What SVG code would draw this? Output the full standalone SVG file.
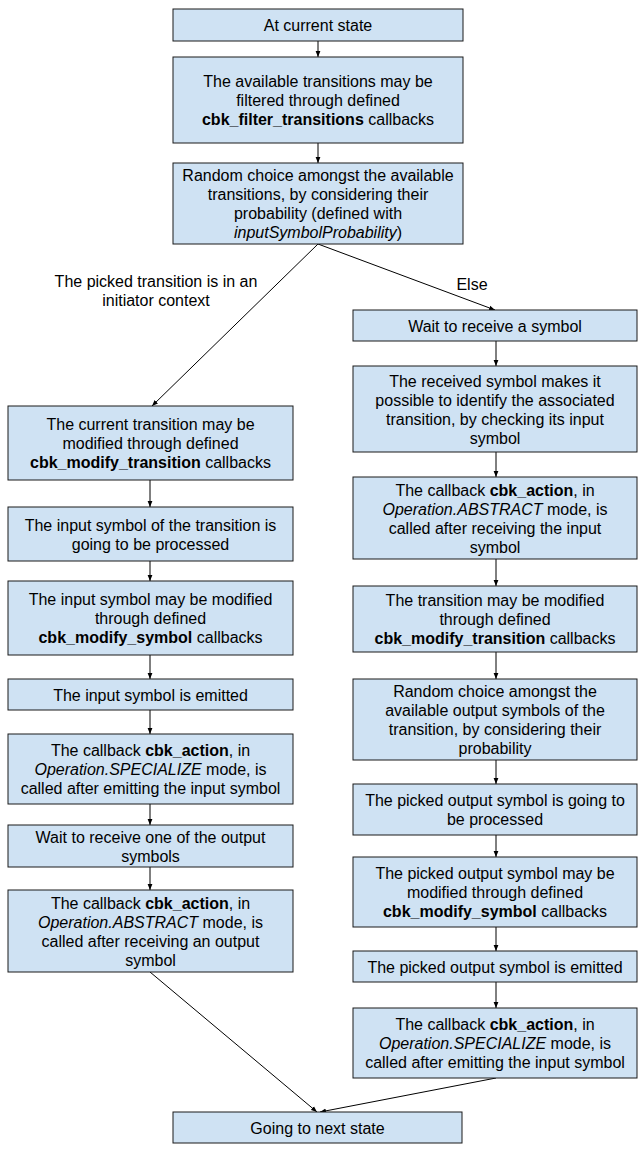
<svg xmlns="http://www.w3.org/2000/svg" width="643" height="1151" viewBox="0 0 643 1151">
<style>
.box{fill:#cfe2f3;stroke:#1a1a1a;stroke-width:1}
text{font-family:"Liberation Sans",Arial,sans-serif;font-size:16px;fill:#000;text-anchor:middle}
.b{font-weight:bold}
.i{font-style:italic}
.c{stroke:#000;stroke-width:1;fill:none;marker-end:url(#ah)}
</style>
<defs>
<marker id="ah" viewBox="0 0 10 10" markerWidth="6" markerHeight="6" refX="10" refY="5" orient="auto" markerUnits="userSpaceOnUse">
<path d="M0,1 L10,5 L0,9 z" fill="#000"/>
</marker>
</defs>
<rect width="643" height="1151" fill="#fff"/>
<g id="connectors">
<line class="c" x1="318" y1="41" x2="318" y2="57"/>
<line class="c" x1="318" y1="143" x2="318" y2="163"/>
<line class="c" x1="318" y1="244" x2="152" y2="406"/>
<line class="c" x1="318" y1="244" x2="495" y2="310"/>
<line class="c" x1="150" y1="480" x2="150" y2="507"/>
<line class="c" x1="150" y1="561" x2="150" y2="581"/>
<line class="c" x1="150" y1="655" x2="150" y2="679"/>
<line class="c" x1="150" y1="710" x2="150" y2="734"/>
<line class="c" x1="150" y1="804" x2="150" y2="825"/>
<line class="c" x1="150" y1="867" x2="150" y2="890"/>
<line class="c" x1="150" y1="972" x2="317" y2="1112"/>
<line class="c" x1="496" y1="341" x2="496" y2="366"/>
<line class="c" x1="496" y1="452" x2="496" y2="477"/>
<line class="c" x1="496" y1="559" x2="496" y2="586"/>
<line class="c" x1="496" y1="652" x2="496" y2="679"/>
<line class="c" x1="496" y1="760" x2="496" y2="784"/>
<line class="c" x1="496" y1="835" x2="496" y2="857"/>
<line class="c" x1="496" y1="927" x2="496" y2="951"/>
<line class="c" x1="496" y1="982" x2="496" y2="1008"/>
<line class="c" x1="496" y1="1078" x2="320" y2="1112"/>
<text x="156" y="287">The picked transition is in an</text>
<text x="156" y="306">initiator context</text>
<text x="472" y="290">Else</text>
</g>
<g id="n1"><rect class="box" x="173" y="9" width="290" height="32"/>
<text x="318" y="31">At current state</text></g>
<g id="n2"><rect class="box" x="173" y="57" width="290" height="86"/>
<text x="318" y="87">The available transitions may be</text>
<text x="318" y="106">filtered through defined</text>
<text x="318" y="125"><tspan class="b">cbk_filter_transitions</tspan> callbacks</text></g>
<g id="n3"><rect class="box" x="173" y="163" width="290" height="81"/>
<text x="318" y="181">Random choice amongst the available</text>
<text x="318" y="200">transitions, by considering their</text>
<text x="318" y="219">probability (defined with</text>
<text x="318" y="238"><tspan class="i">inputSymbolProbability</tspan>)</text></g>
<g id="l1"><rect class="box" x="8" y="406" width="285" height="74"/>
<text x="150.5" y="430">The current transition may be</text>
<text x="150.5" y="449">modified through defined</text>
<text x="150.5" y="468"><tspan class="b">cbk_modify_transition</tspan> callbacks</text></g>
<g id="l2"><rect class="box" x="8" y="507" width="285" height="54"/>
<text x="150.5" y="530.5">The input symbol of the transition is</text>
<text x="150.5" y="549.5">going to be processed</text></g>
<g id="l3"><rect class="box" x="8" y="581" width="285" height="74"/>
<text x="150.5" y="605">The input symbol may be modified</text>
<text x="150.5" y="624">through defined</text>
<text x="150.5" y="643"><tspan class="b">cbk_modify_symbol</tspan> callbacks</text></g>
<g id="l4"><rect class="box" x="8" y="679" width="285" height="31"/>
<text x="150.5" y="700.5">The input symbol is emitted</text></g>
<g id="l5"><rect class="box" x="8" y="734" width="285" height="70"/>
<text x="150.5" y="756">The callback <tspan class="b">cbk_action</tspan>, in</text>
<text x="150.5" y="775"><tspan class="i">Operation.SPECIALIZE</tspan> mode, is</text>
<text x="150.5" y="794">called after emitting the input symbol</text></g>
<g id="l6"><rect class="box" x="8" y="825" width="285" height="42"/>
<text x="150.5" y="842.5">Wait to receive one of the output</text>
<text x="150.5" y="861.5">symbols</text></g>
<g id="l7"><rect class="box" x="8" y="890" width="285" height="82"/>
<text x="150.5" y="908.5">The callback <tspan class="b">cbk_action</tspan>, in</text>
<text x="150.5" y="927.5"><tspan class="i">Operation.ABSTRACT</tspan> mode, is</text>
<text x="150.5" y="946.5">called after receiving an output</text>
<text x="150.5" y="965.5">symbol</text></g>
<g id="r1"><rect class="box" x="353" y="310" width="284" height="31"/>
<text x="495" y="331.5">Wait to receive a symbol</text></g>
<g id="r2"><rect class="box" x="353" y="366" width="284" height="86"/>
<text x="495" y="386.5">The received symbol makes it</text>
<text x="495" y="405.5">possible to identify the associated</text>
<text x="495" y="424.5">transition, by checking its input</text>
<text x="495" y="443.5">symbol</text></g>
<g id="r3"><rect class="box" x="353" y="477" width="284" height="82"/>
<text x="495" y="495.5">The callback <tspan class="b">cbk_action</tspan>, in</text>
<text x="495" y="514.5"><tspan class="i">Operation.ABSTRACT</tspan> mode, is</text>
<text x="495" y="533.5">called after receiving the input</text>
<text x="495" y="552.5">symbol</text></g>
<g id="r4"><rect class="box" x="353" y="586" width="284" height="66"/>
<text x="495" y="606">The transition may be modified</text>
<text x="495" y="625">through defined</text>
<text x="495" y="644"><tspan class="b">cbk_modify_transition</tspan> callbacks</text></g>
<g id="r5"><rect class="box" x="353" y="679" width="284" height="81"/>
<text x="495" y="697">Random choice amongst the</text>
<text x="495" y="716">available output symbols of the</text>
<text x="495" y="735">transition, by considering their</text>
<text x="495" y="754">probability</text></g>
<g id="r6"><rect class="box" x="353" y="784" width="284" height="51"/>
<text x="495" y="806">The picked output symbol is going to</text>
<text x="495" y="825">be processed</text></g>
<g id="r7"><rect class="box" x="353" y="857" width="284" height="70"/>
<text x="495" y="879">The picked output symbol may be</text>
<text x="495" y="898">modified through defined</text>
<text x="495" y="917"><tspan class="b">cbk_modify_symbol</tspan> callbacks</text></g>
<g id="r8"><rect class="box" x="353" y="951" width="284" height="31"/>
<text x="495" y="972.5">The picked output symbol is emitted</text></g>
<g id="r9"><rect class="box" x="353" y="1008" width="284" height="70"/>
<text x="495" y="1030">The callback <tspan class="b">cbk_action</tspan>, in</text>
<text x="495" y="1049"><tspan class="i">Operation.SPECIALIZE</tspan> mode, is</text>
<text x="495" y="1068">called after emitting the input symbol</text></g>
<g id="n4"><rect class="box" x="173" y="1112" width="289" height="31"/>
<text x="317.5" y="1133.5">Going to next state</text></g>
</svg>
